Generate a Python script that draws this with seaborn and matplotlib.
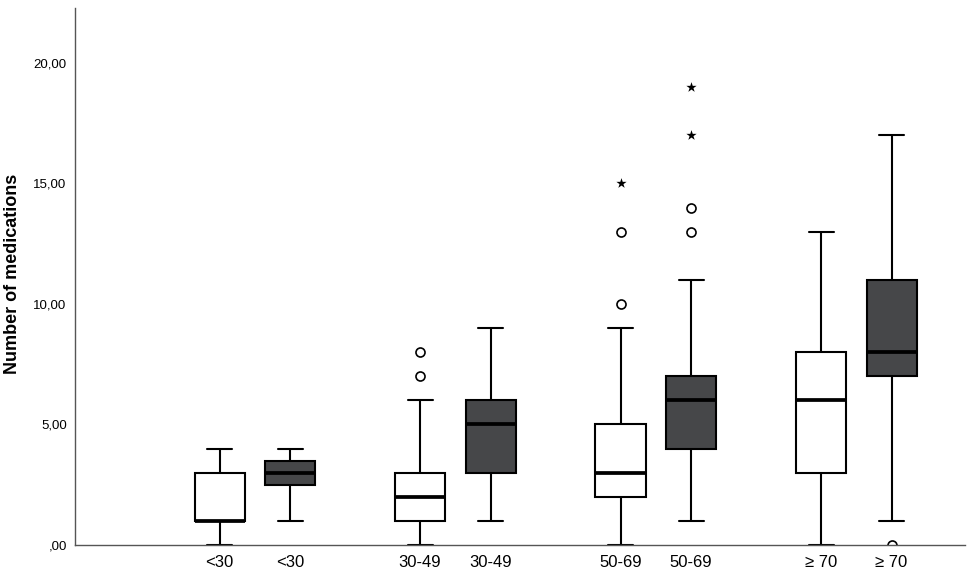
import numpy as np
import pandas as pd
import matplotlib
matplotlib.use("Agg")
import matplotlib.pyplot as plt
import seaborn as sns

# Age groups on the x axis, two boxes per group (light / dark)
age_groups = ["<30", "30-49", "50-69", "≥ 70"]
series = ["light", "dark"]

# Box summaries: whisker low, Q1, median, Q3, whisker high
light_whislo = [0, 0, 0, 0]
light_q1 = [1, 1, 2, 3]
light_median = [1, 2, 3, 6]
light_q3 = [3, 3, 5, 8]
light_whishi = [4, 6, 9, 13]
light_outliers = [[], [7, 8], [10, 13], []]   # circles
light_extremes = [[], [], [15], []]           # stars

dark_whislo = [1, 1, 1, 1]
dark_q1 = [2.5, 3, 4, 7]
dark_median = [3, 5, 6, 8]
dark_q3 = [3.5, 6, 7, 11]
dark_whishi = [4, 9, 11, 17]
dark_outliers = [[], [], [13, 14], [0]]
dark_extremes = [[], [], [17, 19], []]

y_ticks = [0, 5, 10, 15, 20]
y_tick_labels = [",00", "5,00", "10,00", "15,00", "20,00"]
y_label = "Number of medications"

# layout (not data)
PAIR_OFFSET = 0.176
REPEAT = 20  # weight of the hinge values so quartiles land on them


def sample_from_summary(lo, q1, med, q3, hi, outliers):
    # values that give back the same box in matplotlib's quartile rules
    return [lo] + [q1] * REPEAT + [med] * REPEAT + [q3] * REPEAT + [hi] + list(outliers)


summaries = {
    "light": (light_whislo, light_q1, light_median, light_q3, light_whishi, light_outliers, light_extremes),
    "dark": (dark_whislo, dark_q1, dark_median, dark_q3, dark_whishi, dark_outliers, dark_extremes),
}
offsets = {"light": -PAIR_OFFSET, "dark": PAIR_OFFSET}

rows, star_rows, tick_pos, tick_lab = [], [], [], []
for gi, grp in enumerate(age_groups):
    for s in series:
        lo, q1, med, q3, hi, outl, extr = summaries[s]
        xpos = gi + offsets[s]
        tick_pos.append(xpos)
        tick_lab.append(grp)
        for v in sample_from_summary(lo[gi], q1[gi], med[gi], q3[gi], hi[gi], outl[gi]):
            rows.append({"x": xpos, "value": v, "series": s})
        for v in extr[gi]:
            star_rows.append({"x": xpos, "value": v, "series": s})

df = pd.DataFrame(rows)
df_stars = pd.DataFrame(star_rows)

sns.set_style("white")
plt.rcParams["font.family"] = ["Liberation Sans", "DejaVu Sans"]
plt.rcParams["text.color"] = "black"
plt.rcParams["axes.labelcolor"] = "black"
plt.rcParams["xtick.color"] = "black"
plt.rcParams["ytick.color"] = "black"

fig = plt.figure(figsize=(9.76, 5.73), dpi=100)
ax = fig.add_axes([75 / 976, 28 / 573, 890 / 976, 537 / 573])

sns.boxplot(
    data=df, x="x", y="value", hue="series", hue_order=series,
    palette={"light": "white", "dark": "#464749"}, saturation=1,
    native_scale=True, orient="x", dodge=False, width=0.71,
    linecolor="black", linewidth=1.5, legend=False, ax=ax,
    medianprops={"linewidth": 2.7, "color": "black"},
    flierprops={"marker": "o", "markersize": 6.5, "markerfacecolor": "white",
                "markeredgecolor": "black", "markeredgewidth": 1.2},
)

sns.scatterplot(data=df_stars, x="x", y="value", marker="*", color="black",
                s=60, linewidth=0, legend=False, ax=ax, zorder=4)

ax.set_xlim(-0.897, 3.542)
ax.set_ylim(0, 22.28)
ax.set_xticks(tick_pos)
ax.set_xticklabels(tick_lab, fontsize=12)
ax.set_yticks(y_ticks)
ax.set_yticklabels(y_tick_labels, fontsize=9.5)
ax.tick_params(axis="both", length=0, colors="black")
ax.tick_params(axis="x", pad=7)
ax.tick_params(axis="y", pad=6)
ax.set_xlabel("")
ax.set_ylabel(y_label, fontsize=13, fontweight="bold", color="black")
ax.yaxis.set_label_coords(-0.061, 0.505)

sns.despine(ax=ax)
for side in ["left", "bottom"]:
    ax.spines[side].set_color("#555555")
    ax.spines[side].set_linewidth(1.0)

fig.savefig("out.png", dpi=100)
